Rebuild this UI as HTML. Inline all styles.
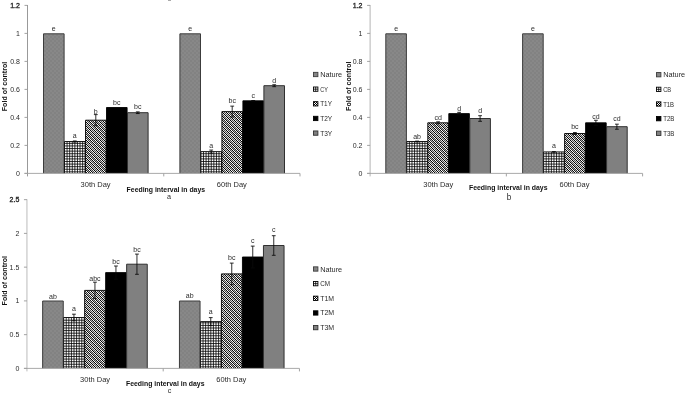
<!DOCTYPE html>
<html><head><meta charset="utf-8"><title>charts</title>
<style>
html,body{margin:0;padding:0;background:#fff;}
body{width:685px;height:393px;overflow:hidden;font-family:"Liberation Sans",sans-serif;}
svg{display:block;filter:grayscale(1)}
.t{font-family:"Liberation Sans",sans-serif;font-size:7px;fill:#2b2b2b}
.b{font-family:"Liberation Sans",sans-serif;font-size:7px;font-weight:bold;fill:#111}
</style></head><body>
<svg width="685" height="393" viewBox="0 0 685 393">
<defs>
<pattern id="pn" patternUnits="userSpaceOnUse" width="4" height="4">
<rect width="4" height="4" fill="#828282"/>
<rect x="0" y="0" width="2" height="2" fill="#888"/><rect x="2" y="2" width="2" height="2" fill="#888"/>
</pattern>
<pattern id="pg" patternUnits="userSpaceOnUse" width="5.24" height="5.24">
<rect width="5.24" height="5.24" fill="#fff"/>
<rect x="0" y="0" width="0.95" height="5.24" fill="#000"/>
<rect x="2.62" y="0" width="0.95" height="5.24" fill="#555"/>
<rect x="0" y="0" width="5.24" height="0.95" fill="#000"/>
<rect x="0" y="2.62" width="5.24" height="0.95" fill="#555"/>
</pattern>
<pattern id="ph" patternUnits="userSpaceOnUse" width="2" height="2">
<rect width="2" height="2" fill="#fff"/>
<rect x="0" y="0" width="1" height="1" fill="#000" shape-rendering="crispEdges"/><rect x="1" y="1" width="1" height="1" fill="#000" shape-rendering="crispEdges"/>
</pattern>
</defs>
<rect width="685" height="393" fill="#fff"/>
<rect x="168" y="0" width="3" height="1" fill="#aaa"/>

<path d="M27.5 5.000000000000005V176.4" fill="none" stroke="#999" stroke-width="1"/>
<path d="M163.75 173.4v3" stroke="#999" stroke-width="0.9"/>
<path d="M300.0 173.4v3" stroke="#999" stroke-width="0.9"/>
<path d="M24.5 173.4h3" stroke="#999" stroke-width="0.9"/>
<text x="19.90" y="175.90" text-anchor="end" class="t">0</text>
<path d="M24.5 145.4h3" stroke="#999" stroke-width="0.9"/>
<text x="19.90" y="147.90" text-anchor="end" class="t">0.2</text>
<path d="M24.5 117.4h3" stroke="#999" stroke-width="0.9"/>
<text x="19.90" y="119.90" text-anchor="end" class="t">0.4</text>
<path d="M24.5 89.4h3" stroke="#999" stroke-width="0.9"/>
<text x="19.90" y="91.90" text-anchor="end" class="t">0.6</text>
<path d="M24.5 61.400000000000006h3" stroke="#999" stroke-width="0.9"/>
<text x="19.90" y="63.90" text-anchor="end" class="t">0.8</text>
<path d="M24.5 33.400000000000006h3" stroke="#999" stroke-width="0.9"/>
<text x="19.90" y="35.90" text-anchor="end" class="t">1</text>
<path d="M24.5 5.400000000000006h3" stroke="#999" stroke-width="0.9"/>
<text x="19.90" y="7.90" text-anchor="end" class="t" stroke="#2b2b2b" stroke-width="0.35">1.2</text>
<rect x="43.50" y="33.80" width="20.6" height="139.60" fill="url(#pn)"/>
<path d="M43.50 173.40V33.80h20.6V173.40" fill="none" stroke="#3c3c3c" stroke-width="1.0"/>
<text x="53.80" y="30.90" text-anchor="middle" class="t">e</text>
<clipPath id="g0_173_0"><rect x="64.50" y="141.50" width="20.6" height="31.50"/></clipPath>
<rect x="64.50" y="141.50" width="20.6" height="31.50" fill="#fff"/>
<path clip-path="url(#g0_173_0)" d="M67.09 141.50v31.50M69.68 141.50v31.50M72.27 141.50v31.50M74.86 141.50v31.50M77.45 141.50v31.50M80.04 141.50v31.50M82.63 141.50v31.50M64.50 171.85h21M64.50 169.26h21M64.50 166.67h21M64.50 164.08h21M64.50 161.49h21M64.50 158.90h21M64.50 156.31h21M64.50 153.72h21M64.50 151.13h21M64.50 148.54h21M64.50 145.95h21M64.50 143.36h21" stroke="#000" stroke-width="0.8" fill="none"/>
<path d="M64.50 173.40V141.50h20.6V173.40" fill="none" stroke="#000" stroke-width="0.9"/>
<path d="M74.80 140.94V142.06M72.90 140.94h3.8M72.90 142.06h3.8" stroke="#0a0a0a" stroke-width="0.85" fill="none"/>
<text x="74.80" y="137.60" text-anchor="middle" class="t">a</text>
<clipPath id="c0_173_0"><rect x="85.50" y="120.20" width="20.6" height="52.80"/></clipPath>
<rect x="85.50" y="120.20" width="20.6" height="53.20" fill="url(#ph)"/>
<path clip-path="url(#c0_173_0)" d="M28.20 120.20l52.80 52.80M32.70 120.20l52.80 52.80M37.20 120.20l52.80 52.80M41.70 120.20l52.80 52.80M46.20 120.20l52.80 52.80M50.70 120.20l52.80 52.80M55.20 120.20l52.80 52.80M59.70 120.20l52.80 52.80M64.20 120.20l52.80 52.80M68.70 120.20l52.80 52.80M73.20 120.20l52.80 52.80M77.70 120.20l52.80 52.80M82.20 120.20l52.80 52.80M86.70 120.20l52.80 52.80M91.20 120.20l52.80 52.80M95.70 120.20l52.80 52.80M100.20 120.20l52.80 52.80M104.70 120.20l52.80 52.80" stroke="#808080" stroke-opacity="0.6" stroke-width="1.4" fill="none"/>
<path d="M85.50 173.40V120.20h20.6V173.40" fill="none" stroke="#000" stroke-width="0.9"/>
<path d="M95.80 114.60V125.80M93.90 114.60h3.8M93.90 125.80h3.8" stroke="#0a0a0a" stroke-width="0.85" fill="none"/>
<text x="95.80" y="113.70" text-anchor="middle" class="t">b</text>
<rect x="106.50" y="107.50" width="20.6" height="65.90" fill="#000"/>
<path d="M106.50 173.40V107.50h20.6V173.40" fill="none" stroke="#000" stroke-width="0.9"/>
<text x="116.80" y="104.80" text-anchor="middle" class="t">bc</text>
<rect x="127.50" y="112.70" width="20.6" height="60.70" fill="#808080"/>
<path d="M127.50 173.40V112.70h20.6V173.40" fill="none" stroke="#303030" stroke-width="1.0"/>
<path d="M137.80 111.86V113.54M135.90 111.86h3.8M135.90 113.54h3.8" stroke="#0a0a0a" stroke-width="0.85" fill="none"/>
<text x="137.80" y="108.80" text-anchor="middle" class="t">bc</text>
<rect x="179.90" y="33.80" width="20.6" height="139.60" fill="url(#pn)"/>
<path d="M179.90 173.40V33.80h20.6V173.40" fill="none" stroke="#3c3c3c" stroke-width="1.0"/>
<text x="190.20" y="30.90" text-anchor="middle" class="t">e</text>
<clipPath id="g0_173_1"><rect x="200.90" y="151.60" width="20.6" height="21.40"/></clipPath>
<rect x="200.90" y="151.60" width="20.6" height="21.40" fill="#fff"/>
<path clip-path="url(#g0_173_1)" d="M203.49 151.60v21.40M206.08 151.60v21.40M208.67 151.60v21.40M211.26 151.60v21.40M213.85 151.60v21.40M216.44 151.60v21.40M219.03 151.60v21.40M200.90 171.85h21M200.90 169.26h21M200.90 166.67h21M200.90 164.08h21M200.90 161.49h21M200.90 158.90h21M200.90 156.31h21M200.90 153.72h21" stroke="#000" stroke-width="0.8" fill="none"/>
<path d="M200.90 173.40V151.60h20.6V173.40" fill="none" stroke="#000" stroke-width="0.9"/>
<path d="M211.20 150.06V153.14M209.30 150.06h3.8M209.30 153.14h3.8" stroke="#0a0a0a" stroke-width="0.85" fill="none"/>
<text x="211.20" y="147.80" text-anchor="middle" class="t">a</text>
<clipPath id="c0_173_1"><rect x="221.90" y="111.60" width="20.6" height="61.40"/></clipPath>
<rect x="221.90" y="111.60" width="20.6" height="61.80" fill="url(#ph)"/>
<path clip-path="url(#c0_173_1)" d="M156.00 111.60l61.40 61.40M160.50 111.60l61.40 61.40M165.00 111.60l61.40 61.40M169.50 111.60l61.40 61.40M174.00 111.60l61.40 61.40M178.50 111.60l61.40 61.40M183.00 111.60l61.40 61.40M187.50 111.60l61.40 61.40M192.00 111.60l61.40 61.40M196.50 111.60l61.40 61.40M201.00 111.60l61.40 61.40M205.50 111.60l61.40 61.40M210.00 111.60l61.40 61.40M214.50 111.60l61.40 61.40M219.00 111.60l61.40 61.40M223.50 111.60l61.40 61.40M228.00 111.60l61.40 61.40M232.50 111.60l61.40 61.40M237.00 111.60l61.40 61.40M241.50 111.60l61.40 61.40" stroke="#808080" stroke-opacity="0.6" stroke-width="1.4" fill="none"/>
<path d="M221.90 173.40V111.60h20.6V173.40" fill="none" stroke="#000" stroke-width="0.9"/>
<path d="M232.20 106.14V117.06M230.30 106.14h3.8M230.30 117.06h3.8" stroke="#0a0a0a" stroke-width="0.85" fill="none"/>
<text x="232.20" y="103.20" text-anchor="middle" class="t">bc</text>
<rect x="242.90" y="100.80" width="20.6" height="72.60" fill="#000"/>
<path d="M242.90 173.40V100.80h20.6V173.40" fill="none" stroke="#000" stroke-width="0.9"/>
<path d="M253.20 100.52V101.08M251.30 100.52h3.8M251.30 101.08h3.8" stroke="#0a0a0a" stroke-width="0.85" fill="none"/>
<text x="253.20" y="97.90" text-anchor="middle" class="t">c</text>
<rect x="263.90" y="85.70" width="20.6" height="87.70" fill="#808080"/>
<path d="M263.90 173.40V85.70h20.6V173.40" fill="none" stroke="#303030" stroke-width="1.0"/>
<path d="M274.20 84.72V86.68M272.30 84.72h3.8M272.30 86.68h3.8" stroke="#0a0a0a" stroke-width="0.85" fill="none"/>
<text x="274.20" y="82.60" text-anchor="middle" class="t">d</text>
<path d="M24.5 173.4H300.0" fill="none" stroke="#a0a0a0" stroke-width="0.9"/>
<text x="95.62" y="186.70" text-anchor="middle" class="t" textLength="30" lengthAdjust="spacingAndGlyphs">30th Day</text>
<text x="231.88" y="186.70" text-anchor="middle" class="t" textLength="30" lengthAdjust="spacingAndGlyphs">60th Day</text>
<text x="165.85" y="191.60" text-anchor="middle" class="b" textLength="78.5" lengthAdjust="spacingAndGlyphs">Feeding interval in days</text>
<text x="168.90" y="199.30" text-anchor="middle" class="t" style="font-size:7.2px">a</text>
<text transform="translate(6.90 86.50) rotate(-90)" text-anchor="middle" class="b" textLength="49.4" lengthAdjust="spacingAndGlyphs">Fold of control</text>
<rect x="313.50" y="72.35" width="4.4" height="4.3" fill="url(#pn)" stroke="#3c3c3c" stroke-width="0.9"/>
<text x="320.20" y="77.00" class="t" textLength="22" lengthAdjust="spacingAndGlyphs">Nature</text>
<rect x="313.50" y="87.00" width="4.4" height="4.3" fill="#fff" stroke="#000" stroke-width="0.9"/>
<path d="M315.70 87.00v4.3M313.50 89.15h4.4" stroke="#000" stroke-width="0.8"/>
<text x="320.20" y="91.65" class="t" textLength="7.6" lengthAdjust="spacingAndGlyphs">CY</text>
<rect x="313.50" y="101.65" width="4.4" height="4.3" fill="url(#ph)" stroke="#000" stroke-width="0.9"/>
<text x="320.20" y="106.30" class="t" textLength="11.7" lengthAdjust="spacingAndGlyphs">T1Y</text>
<rect x="313.50" y="116.30" width="4.4" height="4.3" fill="#000" stroke="#000" stroke-width="0.9"/>
<text x="320.20" y="120.95" class="t" textLength="12" lengthAdjust="spacingAndGlyphs">T2Y</text>
<rect x="313.50" y="130.95" width="4.4" height="4.3" fill="#808080" stroke="#303030" stroke-width="0.9"/>
<text x="320.20" y="135.60" class="t" textLength="12" lengthAdjust="spacingAndGlyphs">T3Y</text>
<path d="M370.1 5.000000000000005V176.4" fill="none" stroke="#b4b4b4" stroke-width="1"/>
<path d="M506.35 173.4v3" stroke="#999" stroke-width="0.9"/>
<path d="M642.6 173.4v3" stroke="#999" stroke-width="0.9"/>
<path d="M367.1 173.4h3" stroke="#999" stroke-width="0.9"/>
<text x="362.50" y="175.90" text-anchor="end" class="t">0</text>
<path d="M367.1 145.4h3" stroke="#999" stroke-width="0.9"/>
<text x="362.50" y="147.90" text-anchor="end" class="t">0.2</text>
<path d="M367.1 117.4h3" stroke="#999" stroke-width="0.9"/>
<text x="362.50" y="119.90" text-anchor="end" class="t">0.4</text>
<path d="M367.1 89.4h3" stroke="#999" stroke-width="0.9"/>
<text x="362.50" y="91.90" text-anchor="end" class="t">0.6</text>
<path d="M367.1 61.400000000000006h3" stroke="#999" stroke-width="0.9"/>
<text x="362.50" y="63.90" text-anchor="end" class="t">0.8</text>
<path d="M367.1 33.400000000000006h3" stroke="#999" stroke-width="0.9"/>
<text x="362.50" y="35.90" text-anchor="end" class="t">1</text>
<path d="M367.1 5.400000000000006h3" stroke="#999" stroke-width="0.9"/>
<text x="362.50" y="7.90" text-anchor="end" class="t" stroke="#2b2b2b" stroke-width="0.35">1.2</text>
<rect x="385.80" y="33.80" width="20.6" height="139.60" fill="url(#pn)"/>
<path d="M385.80 173.40V33.80h20.6V173.40" fill="none" stroke="#3c3c3c" stroke-width="1.0"/>
<text x="396.10" y="30.80" text-anchor="middle" class="t">e</text>
<clipPath id="g342.6_173_0"><rect x="406.80" y="141.50" width="20.6" height="31.50"/></clipPath>
<rect x="406.80" y="141.50" width="20.6" height="31.50" fill="#fff"/>
<path clip-path="url(#g342.6_173_0)" d="M409.39 141.50v31.50M411.98 141.50v31.50M414.57 141.50v31.50M417.16 141.50v31.50M419.75 141.50v31.50M422.34 141.50v31.50M424.93 141.50v31.50M406.80 171.85h21M406.80 169.26h21M406.80 166.67h21M406.80 164.08h21M406.80 161.49h21M406.80 158.90h21M406.80 156.31h21M406.80 153.72h21M406.80 151.13h21M406.80 148.54h21M406.80 145.95h21M406.80 143.36h21" stroke="#000" stroke-width="0.8" fill="none"/>
<path d="M406.80 173.40V141.50h20.6V173.40" fill="none" stroke="#000" stroke-width="0.9"/>
<path d="M417.10 141.08V141.92M415.20 141.08h3.8M415.20 141.92h3.8" stroke="#0a0a0a" stroke-width="0.85" fill="none"/>
<text x="417.10" y="139.20" text-anchor="middle" class="t">ab</text>
<clipPath id="c342.6_173_0"><rect x="427.80" y="122.80" width="20.6" height="50.20"/></clipPath>
<rect x="427.80" y="122.80" width="20.6" height="50.60" fill="url(#ph)"/>
<path clip-path="url(#c342.6_173_0)" d="M373.10 122.80l50.20 50.20M377.60 122.80l50.20 50.20M382.10 122.80l50.20 50.20M386.60 122.80l50.20 50.20M391.10 122.80l50.20 50.20M395.60 122.80l50.20 50.20M400.10 122.80l50.20 50.20M404.60 122.80l50.20 50.20M409.10 122.80l50.20 50.20M413.60 122.80l50.20 50.20M418.10 122.80l50.20 50.20M422.60 122.80l50.20 50.20M427.10 122.80l50.20 50.20M431.60 122.80l50.20 50.20M436.10 122.80l50.20 50.20M440.60 122.80l50.20 50.20M445.10 122.80l50.20 50.20" stroke="#808080" stroke-opacity="0.6" stroke-width="1.4" fill="none"/>
<path d="M427.80 173.40V122.80h20.6V173.40" fill="none" stroke="#000" stroke-width="0.9"/>
<path d="M438.10 121.82V123.78M436.20 121.82h3.8M436.20 123.78h3.8" stroke="#0a0a0a" stroke-width="0.85" fill="none"/>
<text x="438.10" y="120.10" text-anchor="middle" class="t">cd</text>
<rect x="448.80" y="113.60" width="20.6" height="59.80" fill="#000"/>
<path d="M448.80 173.40V113.60h20.6V173.40" fill="none" stroke="#000" stroke-width="0.9"/>
<path d="M459.10 112.34V114.86M457.20 112.34h3.8M457.20 114.86h3.8" stroke="#0a0a0a" stroke-width="0.85" fill="none"/>
<text x="459.10" y="110.60" text-anchor="middle" class="t">d</text>
<rect x="469.80" y="118.50" width="20.6" height="54.90" fill="#808080"/>
<path d="M469.80 173.40V118.50h20.6V173.40" fill="none" stroke="#303030" stroke-width="1.0"/>
<path d="M480.10 115.70V121.30M478.20 115.70h3.8M478.20 121.30h3.8" stroke="#0a0a0a" stroke-width="0.85" fill="none"/>
<text x="480.10" y="112.90" text-anchor="middle" class="t">d</text>
<rect x="522.60" y="33.80" width="20.6" height="139.60" fill="url(#pn)"/>
<path d="M522.60 173.40V33.80h20.6V173.40" fill="none" stroke="#3c3c3c" stroke-width="1.0"/>
<text x="532.90" y="30.80" text-anchor="middle" class="t">e</text>
<clipPath id="g342.6_173_1"><rect x="543.60" y="151.90" width="20.6" height="21.10"/></clipPath>
<rect x="543.60" y="151.90" width="20.6" height="21.10" fill="#fff"/>
<path clip-path="url(#g342.6_173_1)" d="M546.19 151.90v21.10M548.78 151.90v21.10M551.37 151.90v21.10M553.96 151.90v21.10M556.55 151.90v21.10M559.14 151.90v21.10M561.73 151.90v21.10M543.60 171.85h21M543.60 169.26h21M543.60 166.67h21M543.60 164.08h21M543.60 161.49h21M543.60 158.90h21M543.60 156.31h21M543.60 153.72h21" stroke="#000" stroke-width="0.8" fill="none"/>
<path d="M543.60 173.40V151.90h20.6V173.40" fill="none" stroke="#000" stroke-width="0.9"/>
<path d="M553.90 151.62V152.18M552.00 151.62h3.8M552.00 152.18h3.8" stroke="#0a0a0a" stroke-width="0.85" fill="none"/>
<text x="553.90" y="147.80" text-anchor="middle" class="t">a</text>
<clipPath id="c342.6_173_1"><rect x="564.60" y="133.50" width="20.6" height="39.50"/></clipPath>
<rect x="564.60" y="133.50" width="20.6" height="39.90" fill="url(#ph)"/>
<path clip-path="url(#c342.6_173_1)" d="M520.60 133.50l39.50 39.50M525.10 133.50l39.50 39.50M529.60 133.50l39.50 39.50M534.10 133.50l39.50 39.50M538.60 133.50l39.50 39.50M543.10 133.50l39.50 39.50M547.60 133.50l39.50 39.50M552.10 133.50l39.50 39.50M556.60 133.50l39.50 39.50M561.10 133.50l39.50 39.50M565.60 133.50l39.50 39.50M570.10 133.50l39.50 39.50M574.60 133.50l39.50 39.50M579.10 133.50l39.50 39.50M583.60 133.50l39.50 39.50" stroke="#808080" stroke-opacity="0.6" stroke-width="1.4" fill="none"/>
<path d="M564.60 173.40V133.50h20.6V173.40" fill="none" stroke="#000" stroke-width="0.9"/>
<path d="M574.90 132.52V134.48M573.00 132.52h3.8M573.00 134.48h3.8" stroke="#0a0a0a" stroke-width="0.85" fill="none"/>
<text x="574.90" y="129.30" text-anchor="middle" class="t">bc</text>
<rect x="585.60" y="122.80" width="20.6" height="50.60" fill="#000"/>
<path d="M585.60 173.40V122.80h20.6V173.40" fill="none" stroke="#000" stroke-width="0.9"/>
<path d="M595.90 120.28V125.32M594.00 120.28h3.8M594.00 125.32h3.8" stroke="#0a0a0a" stroke-width="0.85" fill="none"/>
<text x="595.90" y="118.60" text-anchor="middle" class="t">cd</text>
<rect x="606.60" y="126.70" width="20.6" height="46.70" fill="#808080"/>
<path d="M606.60 173.40V126.70h20.6V173.40" fill="none" stroke="#303030" stroke-width="1.0"/>
<path d="M616.90 124.18V129.22M615.00 124.18h3.8M615.00 129.22h3.8" stroke="#0a0a0a" stroke-width="0.85" fill="none"/>
<text x="616.90" y="121.40" text-anchor="middle" class="t">cd</text>
<path d="M367.1 173.4H642.6" fill="none" stroke="#a0a0a0" stroke-width="0.9"/>
<text x="438.23" y="187.10" text-anchor="middle" class="t" textLength="30" lengthAdjust="spacingAndGlyphs">30th Day</text>
<text x="574.48" y="187.10" text-anchor="middle" class="t" textLength="30" lengthAdjust="spacingAndGlyphs">60th Day</text>
<text x="508.25" y="189.70" text-anchor="middle" class="b" textLength="78.5" lengthAdjust="spacingAndGlyphs">Feeding interval in days</text>
<text x="509.00" y="199.90" text-anchor="middle" class="t" style="font-size:8.2px">b</text>
<text transform="translate(350.70 86.20) rotate(-90)" text-anchor="middle" class="b" textLength="49.4" lengthAdjust="spacingAndGlyphs">Fold of control</text>
<rect x="656.50" y="72.55" width="4.4" height="4.3" fill="url(#pn)" stroke="#3c3c3c" stroke-width="0.9"/>
<text x="663.20" y="77.20" class="t" textLength="22" lengthAdjust="spacingAndGlyphs">Nature</text>
<rect x="656.50" y="87.20" width="4.4" height="4.3" fill="#fff" stroke="#000" stroke-width="0.9"/>
<path d="M658.70 87.20v4.3M656.50 89.35h4.4" stroke="#000" stroke-width="0.8"/>
<text x="663.20" y="91.85" class="t" textLength="8.0" lengthAdjust="spacingAndGlyphs">CB</text>
<rect x="656.50" y="101.85" width="4.4" height="4.3" fill="url(#ph)" stroke="#000" stroke-width="0.9"/>
<text x="663.20" y="106.50" class="t" textLength="10.9" lengthAdjust="spacingAndGlyphs">T1B</text>
<rect x="656.50" y="116.50" width="4.4" height="4.3" fill="#000" stroke="#000" stroke-width="0.9"/>
<text x="663.20" y="121.15" class="t" textLength="11.2" lengthAdjust="spacingAndGlyphs">T2B</text>
<rect x="656.50" y="131.15" width="4.4" height="4.3" fill="#808080" stroke="#303030" stroke-width="0.9"/>
<text x="663.20" y="135.80" class="t" textLength="11.2" lengthAdjust="spacingAndGlyphs">T3B</text>
<path d="M26.95 199.24999999999997V371.4" fill="none" stroke="#bcbcbc" stroke-width="1"/>
<path d="M163.2 368.4v3" stroke="#999" stroke-width="0.9"/>
<path d="M299.45 368.4v3" stroke="#999" stroke-width="0.9"/>
<path d="M23.95 368.4h3" stroke="#999" stroke-width="0.9"/>
<text x="19.35" y="370.90" text-anchor="end" class="t">0</text>
<path d="M23.95 334.65h3" stroke="#999" stroke-width="0.9"/>
<text x="19.35" y="337.15" text-anchor="end" class="t">0.5</text>
<path d="M23.95 300.9h3" stroke="#999" stroke-width="0.9"/>
<text x="19.35" y="303.40" text-anchor="end" class="t">1</text>
<path d="M23.95 267.15h3" stroke="#999" stroke-width="0.9"/>
<text x="19.35" y="269.65" text-anchor="end" class="t">1.5</text>
<path d="M23.95 233.39999999999998h3" stroke="#999" stroke-width="0.9"/>
<text x="19.35" y="235.90" text-anchor="end" class="t">2</text>
<path d="M23.95 199.64999999999998h3" stroke="#999" stroke-width="0.9"/>
<text x="19.35" y="202.15" text-anchor="end" class="t" stroke="#2b2b2b" stroke-width="0.35">2.5</text>
<rect x="42.65" y="301.00" width="20.6" height="67.40" fill="url(#pn)"/>
<path d="M42.65 368.40V301.00h20.6V368.40" fill="none" stroke="#3c3c3c" stroke-width="1.0"/>
<text x="52.95" y="298.60" text-anchor="middle" class="t">ab</text>
<clipPath id="g-0.55_368_0"><rect x="63.65" y="317.50" width="20.6" height="50.50"/></clipPath>
<rect x="63.65" y="317.50" width="20.6" height="50.50" fill="#fff"/>
<path clip-path="url(#g-0.55_368_0)" d="M66.24 317.50v50.50M68.83 317.50v50.50M71.42 317.50v50.50M74.01 317.50v50.50M76.60 317.50v50.50M79.19 317.50v50.50M81.78 317.50v50.50M63.65 366.85h21M63.65 364.26h21M63.65 361.67h21M63.65 359.08h21M63.65 356.49h21M63.65 353.90h21M63.65 351.31h21M63.65 348.72h21M63.65 346.13h21M63.65 343.54h21M63.65 340.95h21M63.65 338.36h21M63.65 335.77h21M63.65 333.18h21M63.65 330.59h21M63.65 328.00h21M63.65 325.41h21M63.65 322.82h21M63.65 320.23h21" stroke="#000" stroke-width="0.8" fill="none"/>
<path d="M63.65 368.40V317.50h20.6V368.40" fill="none" stroke="#000" stroke-width="0.9"/>
<path d="M73.95 314.20V320.80M72.05 314.20h3.8M72.05 320.80h3.8" stroke="#0a0a0a" stroke-width="0.85" fill="none"/>
<text x="73.95" y="310.50" text-anchor="middle" class="t">a</text>
<clipPath id="c-0.55_368_0"><rect x="84.65" y="290.40" width="20.6" height="77.60"/></clipPath>
<rect x="84.65" y="290.40" width="20.6" height="78.00" fill="url(#ph)"/>
<path clip-path="url(#c-0.55_368_0)" d="M2.55 290.40l77.60 77.60M7.05 290.40l77.60 77.60M11.55 290.40l77.60 77.60M16.05 290.40l77.60 77.60M20.55 290.40l77.60 77.60M25.05 290.40l77.60 77.60M29.55 290.40l77.60 77.60M34.05 290.40l77.60 77.60M38.55 290.40l77.60 77.60M43.05 290.40l77.60 77.60M47.55 290.40l77.60 77.60M52.05 290.40l77.60 77.60M56.55 290.40l77.60 77.60M61.05 290.40l77.60 77.60M65.55 290.40l77.60 77.60M70.05 290.40l77.60 77.60M74.55 290.40l77.60 77.60M79.05 290.40l77.60 77.60M83.55 290.40l77.60 77.60M88.05 290.40l77.60 77.60M92.55 290.40l77.60 77.60M97.05 290.40l77.60 77.60M101.55 290.40l77.60 77.60" stroke="#808080" stroke-opacity="0.6" stroke-width="1.4" fill="none"/>
<path d="M84.65 368.40V290.40h20.6V368.40" fill="none" stroke="#000" stroke-width="0.9"/>
<path d="M94.95 282.20V298.60M93.05 282.20h3.8M93.05 298.60h3.8" stroke="#0a0a0a" stroke-width="0.85" fill="none"/>
<text x="94.95" y="280.70" text-anchor="middle" class="t">abc</text>
<rect x="105.65" y="272.60" width="20.6" height="95.80" fill="#000"/>
<path d="M105.65 368.40V272.60h20.6V368.40" fill="none" stroke="#000" stroke-width="0.9"/>
<path d="M115.95 266.00V279.20M114.05 266.00h3.8M114.05 279.20h3.8" stroke="#0a0a0a" stroke-width="0.85" fill="none"/>
<text x="115.95" y="263.80" text-anchor="middle" class="t">bc</text>
<rect x="126.65" y="264.20" width="20.6" height="104.20" fill="#808080"/>
<path d="M126.65 368.40V264.20h20.6V368.40" fill="none" stroke="#303030" stroke-width="1.0"/>
<path d="M136.95 254.10V274.30M135.05 254.10h3.8M135.05 274.30h3.8" stroke="#0a0a0a" stroke-width="0.85" fill="none"/>
<text x="136.95" y="252.30" text-anchor="middle" class="t">bc</text>
<rect x="179.45" y="301.00" width="20.6" height="67.40" fill="url(#pn)"/>
<path d="M179.45 368.40V301.00h20.6V368.40" fill="none" stroke="#3c3c3c" stroke-width="1.0"/>
<text x="189.75" y="298.20" text-anchor="middle" class="t">ab</text>
<clipPath id="g-0.55_368_1"><rect x="200.45" y="321.60" width="20.6" height="46.40"/></clipPath>
<rect x="200.45" y="321.60" width="20.6" height="46.40" fill="#fff"/>
<path clip-path="url(#g-0.55_368_1)" d="M203.04 321.60v46.40M205.63 321.60v46.40M208.22 321.60v46.40M210.81 321.60v46.40M213.40 321.60v46.40M215.99 321.60v46.40M218.58 321.60v46.40M200.45 366.85h21M200.45 364.26h21M200.45 361.67h21M200.45 359.08h21M200.45 356.49h21M200.45 353.90h21M200.45 351.31h21M200.45 348.72h21M200.45 346.13h21M200.45 343.54h21M200.45 340.95h21M200.45 338.36h21M200.45 335.77h21M200.45 333.18h21M200.45 330.59h21M200.45 328.00h21M200.45 325.41h21M200.45 322.82h21" stroke="#000" stroke-width="0.8" fill="none"/>
<path d="M200.45 368.40V321.60h20.6V368.40" fill="none" stroke="#000" stroke-width="0.9"/>
<path d="M210.75 317.60V325.60M208.85 317.60h3.8M208.85 325.60h3.8" stroke="#0a0a0a" stroke-width="0.85" fill="none"/>
<text x="210.75" y="314.40" text-anchor="middle" class="t">a</text>
<clipPath id="c-0.55_368_1"><rect x="221.45" y="273.90" width="20.6" height="94.10"/></clipPath>
<rect x="221.45" y="273.90" width="20.6" height="94.50" fill="url(#ph)"/>
<path clip-path="url(#c-0.55_368_1)" d="M122.85 273.90l94.10 94.10M127.35 273.90l94.10 94.10M131.85 273.90l94.10 94.10M136.35 273.90l94.10 94.10M140.85 273.90l94.10 94.10M145.35 273.90l94.10 94.10M149.85 273.90l94.10 94.10M154.35 273.90l94.10 94.10M158.85 273.90l94.10 94.10M163.35 273.90l94.10 94.10M167.85 273.90l94.10 94.10M172.35 273.90l94.10 94.10M176.85 273.90l94.10 94.10M181.35 273.90l94.10 94.10M185.85 273.90l94.10 94.10M190.35 273.90l94.10 94.10M194.85 273.90l94.10 94.10M199.35 273.90l94.10 94.10M203.85 273.90l94.10 94.10M208.35 273.90l94.10 94.10M212.85 273.90l94.10 94.10M217.35 273.90l94.10 94.10M221.85 273.90l94.10 94.10M226.35 273.90l94.10 94.10M230.85 273.90l94.10 94.10M235.35 273.90l94.10 94.10M239.85 273.90l94.10 94.10" stroke="#808080" stroke-opacity="0.6" stroke-width="1.4" fill="none"/>
<path d="M221.45 368.40V273.90h20.6V368.40" fill="none" stroke="#000" stroke-width="0.9"/>
<path d="M231.75 263.10V284.70M229.85 263.10h3.8M229.85 284.70h3.8" stroke="#0a0a0a" stroke-width="0.85" fill="none"/>
<text x="231.75" y="260.30" text-anchor="middle" class="t">bc</text>
<rect x="242.45" y="257.00" width="20.6" height="111.40" fill="#000"/>
<path d="M242.45 368.40V257.00h20.6V368.40" fill="none" stroke="#000" stroke-width="0.9"/>
<path d="M252.75 246.10V267.90M250.85 246.10h3.8M250.85 267.90h3.8" stroke="#0a0a0a" stroke-width="0.85" fill="none"/>
<text x="252.75" y="243.30" text-anchor="middle" class="t">c</text>
<rect x="263.45" y="245.50" width="20.6" height="122.90" fill="#808080"/>
<path d="M263.45 368.40V245.50h20.6V368.40" fill="none" stroke="#303030" stroke-width="1.0"/>
<path d="M273.75 235.70V255.30M271.85 235.70h3.8M271.85 255.30h3.8" stroke="#0a0a0a" stroke-width="0.85" fill="none"/>
<text x="273.75" y="231.90" text-anchor="middle" class="t">c</text>
<path d="M23.95 368.4H299.45" fill="none" stroke="#a0a0a0" stroke-width="0.9"/>
<text x="95.08" y="381.70" text-anchor="middle" class="t" textLength="30" lengthAdjust="spacingAndGlyphs">30th Day</text>
<text x="231.32" y="381.70" text-anchor="middle" class="t" textLength="30" lengthAdjust="spacingAndGlyphs">60th Day</text>
<text x="165.25" y="386.30" text-anchor="middle" class="b" textLength="78.5" lengthAdjust="spacingAndGlyphs">Feeding interval in days</text>
<text x="169.60" y="393.10" text-anchor="middle" class="t" style="font-size:7.2px">c</text>
<text transform="translate(7.30 280.70) rotate(-90)" text-anchor="middle" class="b" textLength="49.4" lengthAdjust="spacingAndGlyphs">Fold of control</text>
<rect x="313.50" y="266.85" width="4.4" height="4.3" fill="url(#pn)" stroke="#3c3c3c" stroke-width="0.9"/>
<text x="320.20" y="271.50" class="t" textLength="22" lengthAdjust="spacingAndGlyphs">Nature</text>
<rect x="313.50" y="281.50" width="4.4" height="4.3" fill="#fff" stroke="#000" stroke-width="0.9"/>
<path d="M315.70 281.50v4.3M313.50 283.65h4.4" stroke="#000" stroke-width="0.8"/>
<text x="320.20" y="286.15" class="t" textLength="9.8" lengthAdjust="spacingAndGlyphs">CM</text>
<rect x="313.50" y="296.15" width="4.4" height="4.3" fill="url(#ph)" stroke="#000" stroke-width="0.9"/>
<text x="320.20" y="300.80" class="t" textLength="13.8" lengthAdjust="spacingAndGlyphs">T1M</text>
<rect x="313.50" y="310.80" width="4.4" height="4.3" fill="#000" stroke="#000" stroke-width="0.9"/>
<text x="320.20" y="315.45" class="t" textLength="14" lengthAdjust="spacingAndGlyphs">T2M</text>
<rect x="313.50" y="325.45" width="4.4" height="4.3" fill="#808080" stroke="#303030" stroke-width="0.9"/>
<text x="320.20" y="330.10" class="t" textLength="14" lengthAdjust="spacingAndGlyphs">T3M</text>
</svg></body></html>
